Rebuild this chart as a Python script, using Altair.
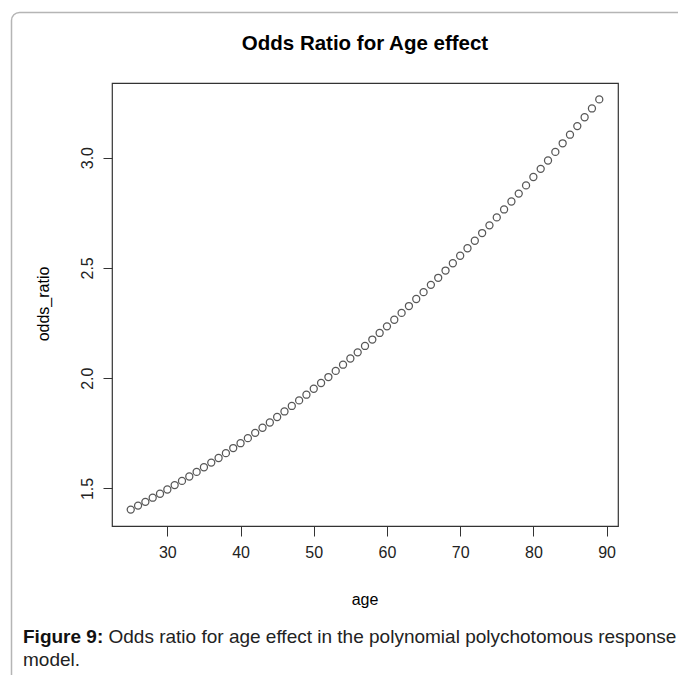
import altair as alt
import pandas as pd

# Age (years) and the fitted odds ratio at each age
age = [25, 26, 27, 28, 29, 30, 31, 32, 33, 34, 35, 36, 37, 38, 39, 40,
       41, 42, 43, 44, 45, 46, 47, 48, 49, 50, 51, 52, 53, 54, 55, 56,
       57, 58, 59, 60, 61, 62, 63, 64, 65, 66, 67, 68, 69, 70, 71, 72,
       73, 74, 75, 76, 77, 78, 79, 80, 81, 82, 83, 84, 85, 86, 87, 88, 89]
odds_ratio = [1.404, 1.422, 1.439, 1.458, 1.476, 1.495, 1.515, 1.534, 1.554,
              1.575, 1.596, 1.617, 1.638, 1.660, 1.683, 1.705, 1.728, 1.752,
              1.775, 1.799, 1.824, 1.849, 1.874, 1.899, 1.925, 1.952, 1.978,
              2.005, 2.033, 2.061, 2.089, 2.117, 2.146, 2.175, 2.205, 2.235,
              2.265, 2.296, 2.327, 2.359, 2.390, 2.423, 2.455, 2.488, 2.521,
              2.555, 2.589, 2.623, 2.658, 2.693, 2.729, 2.765, 2.801, 2.837,
              2.874, 2.912, 2.949, 2.987, 3.026, 3.065, 3.104, 3.143, 3.183,
              3.223, 3.264]

x_ticks = [30, 40, 50, 60, 70, 80, 90]
y_ticks = [1.5, 2.0, 2.5, 3.0]

caption_label = "Figure 9:"
caption_line1 = "Odds ratio for age effect in the polynomial polychotomous response"
caption_line2 = "model."

FONT = "Liberation Sans"
CAP_SIZE = 19
W, H = 506, 443          # plot box
LEFT, TOP = 112, 83      # plot box offset inside the 678x675 page

df = pd.DataFrame({"age": age, "odds_ratio": odds_ratio})

points = alt.Chart(df).mark_point(
    shape="circle", filled=False, size=50, stroke="#111", strokeWidth=1.25
).encode(
    x=alt.X("age:Q",
            scale=alt.Scale(domain=[22.44, 91.56], nice=False, zero=False),
            axis=alt.Axis(values=x_ticks, title=None, domain=False, grid=False,
                          tickSize=10, tickColor="#333", labelFontSize=16,
                          labelFont=FONT, labelColor="#222", labelPadding=8,
                          labelFlush=False)),
    y=alt.Y("odds_ratio:Q",
            scale=alt.Scale(domain=[1.3296, 3.3384], nice=False, zero=False),
            axis=alt.Axis(values=y_ticks, format=".1f", title=None, domain=False,
                          grid=False, tickSize=9, tickColor="#333",
                          labelFontSize=16, labelFont=FONT, labelColor="#222",
                          labelAngle=270, labelAlign="center",
                          labelBaseline="bottom", labelPadding=8,
                          labelFlush=False)),
)

one = alt.Data(values=[{}])

# outer rounded frame of the figure panel
frame = alt.Chart(one).mark_rect(
    fill=None, stroke="#b5b5b5", strokeWidth=1.5, cornerRadius=8
).encode(
    x=alt.value(11.5 - LEFT), x2=alt.value(700 - LEFT),
    y=alt.value(12.5 - TOP), y2=alt.value(700 - TOP),
)

title = alt.Chart(one).mark_text(
    text="Odds Ratio for Age effect", font=FONT, fontSize=20.5,
    fontWeight="bold", align="center", baseline="alphabetic", color="#000"
).encode(x=alt.value(365 - LEFT), y=alt.value(50 - TOP))

xlab = alt.Chart(one).mark_text(
    text="age", font=FONT, fontSize=16, align="center", baseline="alphabetic",
    color="#000"
).encode(x=alt.value(365 - LEFT), y=alt.value(605 - TOP))

ylab = alt.Chart(one).mark_text(
    text="odds_ratio", font=FONT, fontSize=16, align="center",
    baseline="middle", angle=270, color="#000"
).encode(x=alt.value(44 - LEFT), y=alt.value(304 - TOP))

cap_x0 = 23
cap_bold = alt.Chart(one).mark_text(
    text=caption_label, font=FONT, fontSize=CAP_SIZE, fontWeight="bold",
    align="left", baseline="alphabetic", color="#111"
).encode(x=alt.value(cap_x0 - LEFT), y=alt.value(643 - TOP))

cap_norm = alt.Chart(one).mark_text(
    text=caption_line1, font=FONT, fontSize=CAP_SIZE, align="left",
    baseline="alphabetic", color="#222"
).encode(x=alt.value(cap_x0 + 85.5 - LEFT), y=alt.value(643 - TOP))

cap2 = alt.Chart(one).mark_text(
    text=caption_line2, font=FONT, fontSize=CAP_SIZE, align="left",
    baseline="alphabetic", color="#222"
).encode(x=alt.value(cap_x0 - LEFT), y=alt.value(666 - TOP))

chart = alt.layer(
    frame, points, title, xlab, ylab, cap_bold, cap_norm, cap2
).properties(
    width=W, height=H,
    padding={"left": LEFT, "top": TOP, "right": 678 - LEFT - W,
             "bottom": 675 - TOP - H},
    autosize="none",
    background="white",
).configure_view(stroke="#333", strokeWidth=1.2)

chart.save("out.html", embed_options={"renderer": "svg", "actions": False})
